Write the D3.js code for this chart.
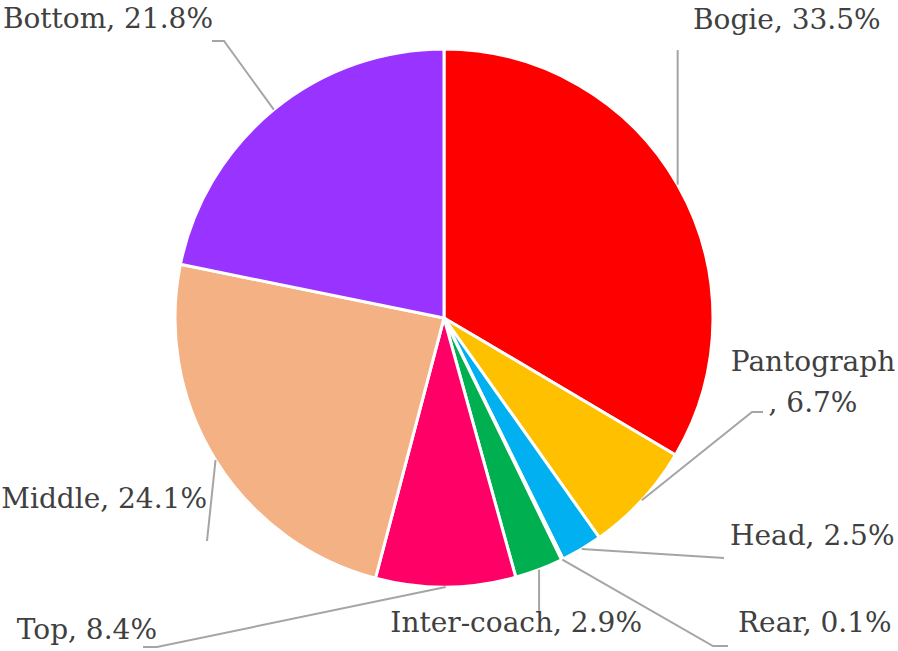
<!DOCTYPE html>
<html>
<head>
<meta charset="utf-8">
<script src="https://cdn.jsdelivr.net/npm/d3@7"></script>
<style>
  body { margin: 0; background: #fff; }
  svg { display: block; }
</style>
</head>
<body>
<div id="chart"></div>
<script>
// data
let parts = ["Bogie", "Pantograph", "Head", "Rear", "Inter-coach", "Top", "Middle", "Bottom"];
let shares = [33.5, 6.7, 2.5, 0.1, 2.9, 8.4, 24.1, 21.8];
let colors = ["#FF0000", "#FFC000", "#00B0F0", "#7F7F7F", "#00B050", "#FF0066", "#F4B183", "#9933FF"];

// label layout: text lines, anchor point, leader elbows (after the slice point)
let labelLayout = [
    {lines: ["Bogie, 33.5%"], x: 693, y: 29, anchor: "start", leader: [[null, 50]]},
    {lines: ["Pantograph", ", 6.7%"], x: 813, y: 371, anchor: "middle", leader: [[752, 412], [763, 412]]},
    {lines: ["Head, 2.5%"], x: 730, y: 545, anchor: "start", leader: [[724, 558]]},
    {lines: ["Rear, 0.1%"], x: 738, y: 632, anchor: "start", leader: [[713, 646], [728, 646]]},
    {lines: ["Inter-coach, 2.9%"], x: 642, y: 632, anchor: "end", leader: [[null, 612]]},
    {lines: ["Top, 8.4%"], x: 157, y: 639, anchor: "end", leader: [[157, 647], [143, 647]]},
    {lines: ["Middle, 24.1%"], x: 207, y: 508, anchor: "end", leader: [[207, 541]]},
    {lines: ["Bottom, 21.8%"], x: 213, y: 28, anchor: "end", leader: [[224, 41], [212, 41]]}
];

let width = 898, height = 651;
let cx = 444, cy = 318, radius = 269;

let svg = d3.select("#chart").append("svg")
    .attr("width", width)
    .attr("height", height);

let pie = d3.pie().sort(null).value(function (d) { return d; });
let arcs = pie(shares);
let arc = d3.arc().innerRadius(0).outerRadius(radius);

let g = svg.append("g").attr("transform", "translate(" + cx + "," + cy + ")");

g.selectAll()
    .data(arcs)
    .enter()
    .append("path")
    .attr("d", arc)
    .style("fill", function (d, i) { return colors[i]; })
    .style("stroke", "white")
    .style("stroke-width", 3)
    .style("stroke-linejoin", "round");

// leader lines
let line = d3.line();
svg.selectAll()
    .data(arcs)
    .enter()
    .append("path")
    .attr("d", function (d, i) {
        let a = (d.startAngle + d.endAngle) / 2;
        let p0 = [cx + radius * Math.sin(a), cy - radius * Math.cos(a)];
        let pts = [p0];
        labelLayout[i].leader.forEach(function (p) {
            pts.push([p[0] === null ? p0[0] : p[0], p[1]]);
        });
        return line(pts);
    })
    .style("fill", "none")
    .style("stroke", "#A5A5A5")
    .style("stroke-width", 2);

// labels
let labels = svg.selectAll()
    .data(labelLayout)
    .enter()
    .append("text")
    .attr("x", function (d) { return d.x; })
    .attr("y", function (d) { return d.y; })
    .attr("text-anchor", function (d) { return d.anchor; })
    .style("font-family", "'DejaVu Serif', serif")
    .style("font-size", "28px")
    .style("fill", "#404040");

labels.selectAll("tspan")
    .data(function (d) { return d.lines.map(function (t) { return {t: t, x: d.x}; }); })
    .enter()
    .append("tspan")
    .attr("x", function (d) { return d.x; })
    .attr("dy", function (d, i) { return i === 0 ? 0 : 41; })
    .text(function (d) { return d.t; });
</script>
</body>
</html>
